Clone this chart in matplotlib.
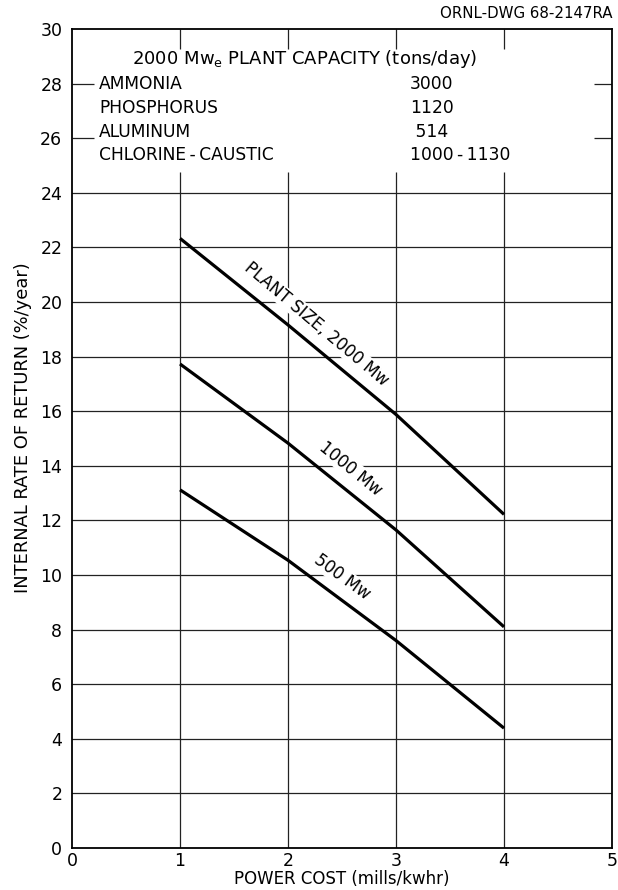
import numpy as np
import matplotlib
matplotlib.use("Agg")
import matplotlib.pyplot as plt

# power cost (mills/kwhr) at which the curves were read
power_cost = [1, 2, 3, 4]

# internal rate of return (%/year) for each plant size
irr_2000 = [22.33, 19.16, 15.88, 12.22]
irr_1000 = [17.73, 14.83, 11.65, 8.10]
irr_500 = [13.12, 10.54, 7.60, 4.39]

# capacity table
products = ["AMMONIA", "PHOSPHORUS", "ALUMINUM", "CHLORINE\u2009-\u2009CAUSTIC"]
capacities = ["3000", "1120", " 514", "1000\u2009-\u20091130"]

xticks = [0, 1, 2, 3, 4, 5]
yticks = list(range(0, 31, 2))

plt.rcParams["font.family"] = ["DejaVu Sans"]

fig = plt.figure(figsize=(6.18, 8.90), dpi=100)
ax = fig.add_axes([72 / 618, 42 / 890, 540 / 618, 819 / 890])
ax.set_xlim(0, 5)
ax.set_ylim(0, 30)

# grid: full lines below the table, stubs around it
grid_kw = dict(color="#222222", linewidth=0.9, zorder=1)
for y in yticks:
    if 0 < y <= 24:
        ax.axhline(y, **grid_kw)
    elif y in (26, 28):
        ax.hlines(y, 0, 0.2, **grid_kw)
        ax.hlines(y, 4.83, 5, **grid_kw)
for x in xticks[1:-1]:
    ax.vlines(x, 0, 24.75, **grid_kw)
    ax.vlines(x, 29.27, 30, **grid_kw)

line_kw = dict(color="black", linewidth=2.3, solid_capstyle="butt", zorder=3)
ax.plot(power_cost, irr_2000, **line_kw)
ax.plot(power_cost, irr_1000, **line_kw)
ax.plot(power_cost, irr_500, **line_kw)

lab_kw = dict(fontsize=12, ha="center", va="center", rotation_mode="anchor",
              zorder=4, bbox=dict(facecolor="white", edgecolor="none", pad=0.5))
ax.text(2.26, 19.2, "PLANT SIZE, 2000 Mw", rotation=-40, **lab_kw)
ax.text(2.58, 13.9, "1000 Mw", rotation=-39, **lab_kw)
ax.text(2.50, 9.93, "500 Mw", rotation=-36, **lab_kw)

# capacity table in the top box
ax.text(0.56, 28.9, r"2000 Mw$_\mathregular{e}$ PLANT CAPACITY (tons/day)",
        fontsize=13, ha="left", va="center")
for i, (p, c) in enumerate(zip(products, capacities)):
    y = 27.98 - 0.87 * i
    ax.text(0.25, y, p, fontsize=12.3, ha="left", va="center")
    ax.text(3.13, y, c, fontsize=12.3, ha="left", va="center")

ax.set_xticks(xticks)
ax.set_yticks(yticks)
ax.tick_params(length=0, labelsize=12.5)
ax.tick_params(axis="x", pad=3)
ax.tick_params(axis="y", pad=7)
for s in ax.spines.values():
    s.set_linewidth(1.3)

ax.set_xlabel("POWER COST (mills/kwhr)", fontsize=12, labelpad=0)
fig.text(23 / 618, 1 - 428 / 890, "INTERNAL RATE OF RETURN (%/year)",
         rotation=90, fontsize=12.9, ha="center", va="center")
fig.text(613 / 618, 1 - 13 / 890, "ORNL-DWG 68-2147RA", fontsize=10.8,
         ha="right", va="center")

fig.savefig("out.png", dpi=100)
